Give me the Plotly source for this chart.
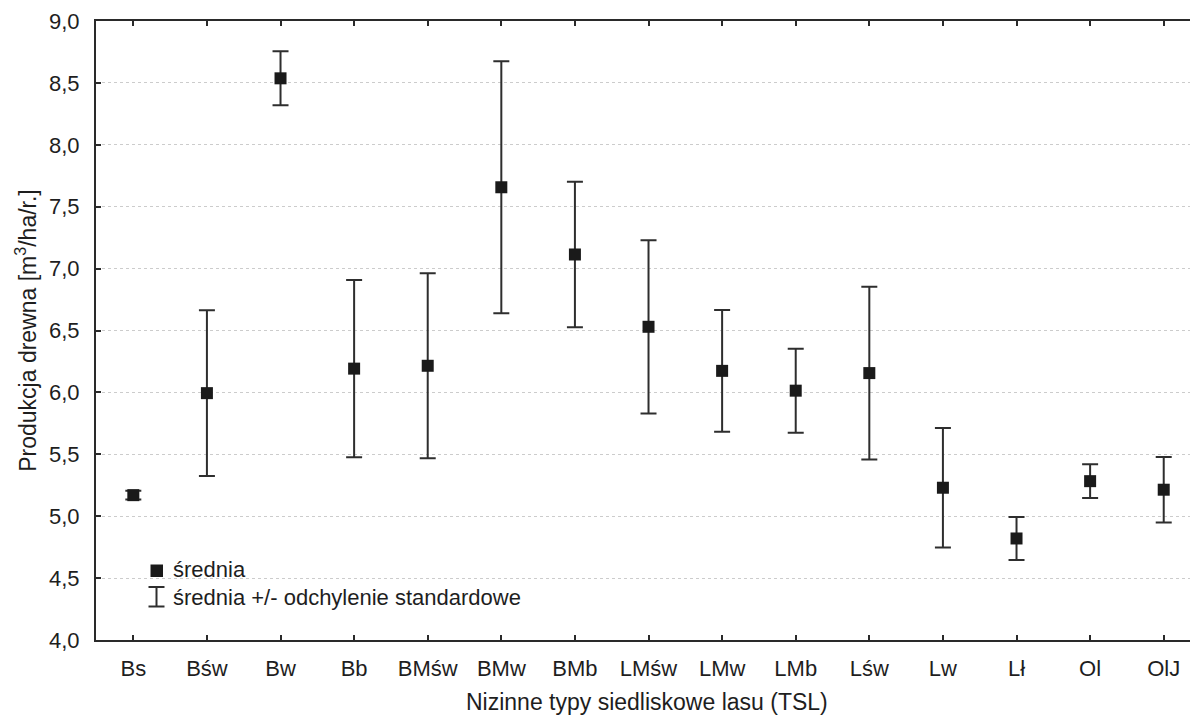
import plotly.graph_objects as go

categories = ["Bs", "Bśw", "Bw", "Bb", "BMśw", "BMw", "BMb", "LMśw", "LMw", "LMb", "Lśw", "Lw", "Lł", "Ol", "OlJ"]
means = [5.17, 5.994, 8.537, 6.192, 6.215, 7.657, 7.114, 6.53, 6.174, 6.014, 6.156, 5.23, 4.82, 5.283, 5.214]
sds = [0.035, 0.669, 0.218, 0.716, 0.747, 1.017, 0.588, 0.70, 0.492, 0.339, 0.698, 0.482, 0.174, 0.136, 0.264]
y_ticks = [4.0, 4.5, 5.0, 5.5, 6.0, 6.5, 7.0, 7.5, 8.0, 8.5, 9.0]

FONT = "Liberation Sans, Arial, sans-serif"
FS = 22
TXT = "#1e1e1e"

fig = go.Figure()
fig.add_trace(go.Scatter(
    x=list(range(len(categories))), y=means, mode="markers",
    marker=dict(symbol="square", size=12, color="#1a1a1a", line=dict(width=0)),
    error_y=dict(type="data", array=sds, visible=True, color="#2e2e2e", thickness=2, width=8),
    showlegend=False, hoverinfo="skip",
))

fig.update_layout(
    width=1190, height=717,
    margin=dict(l=96, r=0, t=21, b=77),
    plot_bgcolor="white", paper_bgcolor="white",
    separators=",.",
    font=dict(family=FONT, size=FS, color=TXT),
    showlegend=False,
)
fig.update_xaxes(
    range=[-0.507, 14.357],
    tickmode="array", tickvals=list(range(len(categories))), ticktext=categories,
    showline=True, linecolor="#2a2a2a", linewidth=2, mirror="ticks",
    ticks="inside", ticklen=5, tickwidth=2, tickcolor="#2a2a2a",
    showgrid=False, zeroline=False,
    ticklabelstandoff=8,
    tickfont=dict(family=FONT, size=FS, color=TXT),
)
fig.update_yaxes(
    range=[4.0, 9.0],
    tickmode="array", tickvals=y_ticks, tickformat=".1f",
    showline=True, linecolor="#2a2a2a", linewidth=2, mirror=False,
    ticks="inside", ticklen=5, tickwidth=2, tickcolor="#2a2a2a",
    showgrid=True, gridcolor="#cccccc", gridwidth=1, griddash="dot",
    zeroline=False,
    ticklabelstandoff=10,
    tickfont=dict(family=FONT, size=FS, color=TXT),
    title=dict(text="Produkcja drewna [m<sup>3</sup>/ha/r.]", font=dict(family=FONT, size=23, color=TXT), standoff=6),
)

# X axis title
fig.add_annotation(
    text="Nizinne typy siedliskowe lasu (TSL)", xref="paper", yref="paper",
    x=0.5037, y=-0.100, xanchor="center", yanchor="middle", showarrow=False,
    font=dict(family=FONT, size=23, color=TXT),
)

# Manual legend (paper coordinates)
px_w, px_h = 1094.0, 619.0
def px(xp):
    return (xp - 96) / px_w
def py(yp):
    return (640 - yp) / px_h

fig.add_shape(type="rect", xref="paper", yref="paper",
              x0=px(150.5), x1=px(163), y0=py(577), y1=py(564.5),
              fillcolor="#1a1a1a", line=dict(width=0))
fig.add_annotation(text="średnia", xref="paper", yref="paper", x=px(171), y=py(569),
                   xanchor="left", yanchor="middle", showarrow=False,
                   font=dict(family=FONT, size=FS, color=TXT))
for (x0, y0, x1, y1) in [(156.5, 587, 156.5, 606.5), (148.5, 587, 164.5, 587), (148.5, 606.5, 164.5, 606.5)]:
    fig.add_shape(type="line", xref="paper", yref="paper",
                  x0=px(x0), x1=px(x1), y0=py(y0), y1=py(y1),
                  line=dict(color="#2e2e2e", width=2))
fig.add_annotation(text="średnia +/- odchylenie standardowe", xref="paper", yref="paper",
                   x=px(171), y=py(597), xanchor="left", yanchor="middle", showarrow=False,
                   font=dict(family=FONT, size=FS, color=TXT))

fig.write_html("out.html", config={"displayModeBar": False},
               post_script="document.body.style.margin='0';document.body.style.overflow='hidden';")
